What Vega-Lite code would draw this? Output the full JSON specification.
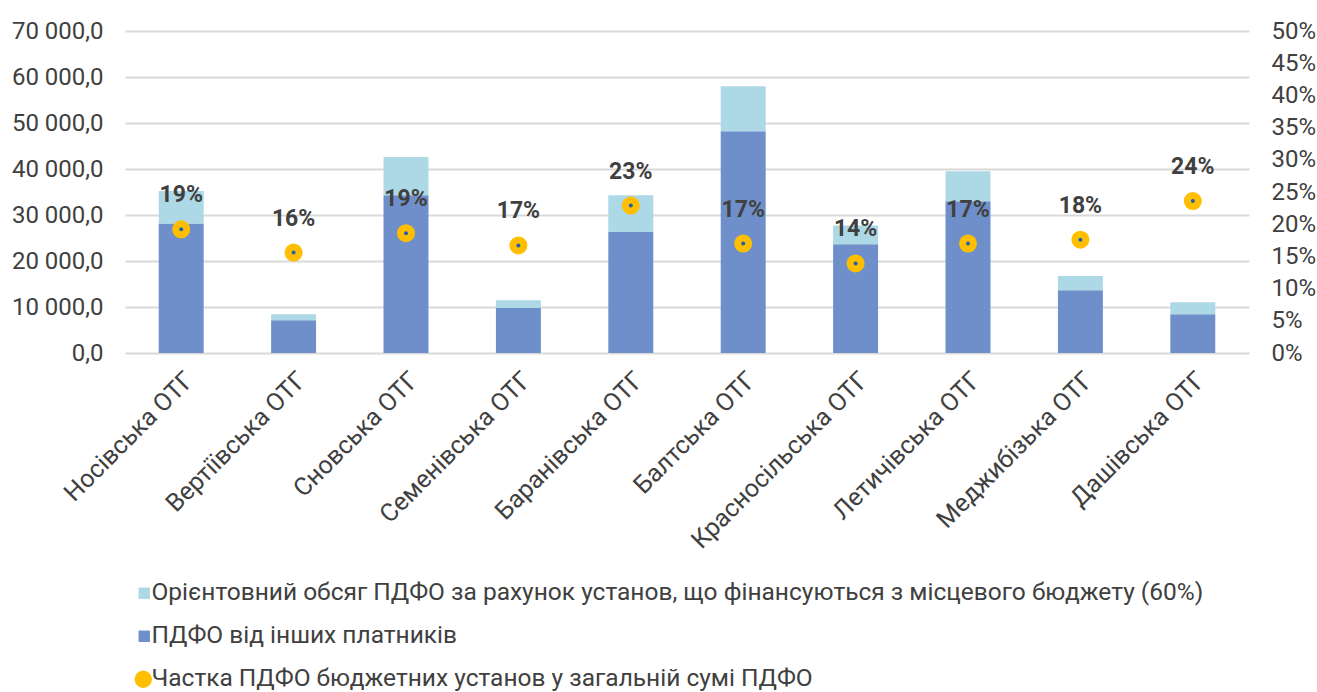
{
  "$schema": "https://vega.github.io/schema/vega-lite/v6.json",
  "width": 1124,
  "height": 322,
  "autosize": {"type": "none"},
  "padding": {"left": 125, "top": 31, "right": 68, "bottom": 339},
  "background": "white",
  "config": {
    "locale": {"number": {"decimal": ",", "thousands": " ", "grouping": [3], "currency": ["", ""]}},
    "font": "Roboto",
    "view": {"stroke": null},
    "axis": {"labelFont": "Roboto", "labelColor": "#404040", "labelFontSize": 24, "ticks": false, "domain": false, "title": null, "labelLimit": 0},
    "legend": {"labelFont": "Roboto", "labelColor": "#404040", "labelFontSize": 24.5, "title": null, "labelLimit": 0}
  },
  "datasets": {
    "bars": [
      {"otg": "Носівська ОТГ", "series": "ПДФО від інших платників", "value": 28130},
      {"otg": "Носівська ОТГ", "series": "Орієнтовний обсяг ПДФО за рахунок установ, що фінансуються з місцевого бюджету (60%)", "value": 7090},
      {"otg": "Вертіївська ОТГ", "series": "ПДФО від інших платників", "value": 7110},
      {"otg": "Вертіївська ОТГ", "series": "Орієнтовний обсяг ПДФО за рахунок установ, що фінансуються з місцевого бюджету (60%)", "value": 1300},
      {"otg": "Сновська ОТГ", "series": "ПДФО від інших платників", "value": 34280},
      {"otg": "Сновська ОТГ", "series": "Орієнтовний обсяг ПДФО за рахунок установ, що фінансуються з місцевого бюджету (60%)", "value": 8330},
      {"otg": "Семенівська ОТГ", "series": "ПДФО від інших платників", "value": 9780},
      {"otg": "Семенівська ОТГ", "series": "Орієнтовний обсяг ПДФО за рахунок установ, що фінансуються з місцевого бюджету (60%)", "value": 1680},
      {"otg": "Баранівська ОТГ", "series": "ПДФО від інших платників", "value": 26300},
      {"otg": "Баранівська ОТГ", "series": "Орієнтовний обсяг ПДФО за рахунок установ, що фінансуються з місцевого бюджету (60%)", "value": 7980},
      {"otg": "Балтська ОТГ", "series": "ПДФО від інших платників", "value": 48200},
      {"otg": "Балтська ОТГ", "series": "Орієнтовний обсяг ПДФО за рахунок установ, що фінансуються з місцевого бюджету (60%)", "value": 9780},
      {"otg": "Красносільська ОТГ", "series": "ПДФО від інших платників", "value": 23630},
      {"otg": "Красносільська ОТГ", "series": "Орієнтовний обсяг ПДФО за рахунок установ, що фінансуються з місцевого бюджету (60%)", "value": 4070},
      {"otg": "Летичівська ОТГ", "series": "ПДФО від інших платників", "value": 32980},
      {"otg": "Летичівська ОТГ", "series": "Орієнтовний обсяг ПДФО за рахунок установ, що фінансуються з місцевого бюджету (60%)", "value": 6520},
      {"otg": "Меджибізька ОТГ", "series": "ПДФО від інших платників", "value": 13630},
      {"otg": "Меджибізька ОТГ", "series": "Орієнтовний обсяг ПДФО за рахунок установ, що фінансуються з місцевого бюджету (60%)", "value": 3110},
      {"otg": "Дашівська ОТГ", "series": "ПДФО від інших платників", "value": 8410},
      {"otg": "Дашівська ОТГ", "series": "Орієнтовний обсяг ПДФО за рахунок установ, що фінансуються з місцевого бюджету (60%)", "value": 2610}
    ],
    "share": [
      {"otg": "Носівська ОТГ", "pct": 0.192},
      {"otg": "Вертіївська ОТГ", "pct": 0.156},
      {"otg": "Сновська ОТГ", "pct": 0.186},
      {"otg": "Семенівська ОТГ", "pct": 0.167},
      {"otg": "Баранівська ОТГ", "pct": 0.229},
      {"otg": "Балтська ОТГ", "pct": 0.170},
      {"otg": "Красносільська ОТГ", "pct": 0.139},
      {"otg": "Летичівська ОТГ", "pct": 0.170},
      {"otg": "Меджибізька ОТГ", "pct": 0.176},
      {"otg": "Дашівська ОТГ", "pct": 0.236}
    ]
  },
  "encoding": {
    "x": {
      "field": "otg",
      "type": "nominal",
      "sort": null,
      "scale": {"paddingInner": 0.6, "paddingOuter": 0.3},
      "axis": {"labelAngle": -45, "labelPadding": 14, "labelFontSize": 25}
    }
  },
  "layer": [
    {
      "data": {"name": "bars"},
      "mark": {"type": "bar"},
      "encoding": {
        "y": {
          "field": "value",
          "type": "quantitative",
          "stack": "zero",
          "scale": {"domain": [0, 70000]},
          "axis": {
            "values": [0, 10000, 20000, 30000, 40000, 50000, 60000, 70000],
            "format": ",.1f",
            "grid": true,
            "gridColor": "#D9D9D9",
            "gridWidth": 2,
            "labelPadding": 22
          }
        },
        "color": {
          "field": "series",
          "type": "nominal",
          "scale": {
            "domain": ["Орієнтовний обсяг ПДФО за рахунок установ, що фінансуються з місцевого бюджету (60%)", "ПДФО від інших платників"],
            "range": ["#ADD8E6", "#6E8FC9"]
          },
          "legend": {
            "orient": "none",
            "legendX": 7,
            "legendY": 550,
            "direction": "vertical",
            "symbolType": "square",
            "symbolSize": 130,
            "rowPadding": 18,
            "labelOffset": -5
          }
        },
        "order": {"field": "series", "sort": "descending"}
      }
    },
    {
      "data": {"name": "share"},
      "encoding": {
        "y": {
          "field": "pct",
          "type": "quantitative",
          "scale": {"domain": [0, 0.5]},
          "axis": {
            "orient": "right",
            "values": [0, 0.05, 0.1, 0.15, 0.2, 0.25, 0.3, 0.35, 0.4, 0.45, 0.5],
            "format": ".0%",
            "grid": false,
            "labelPadding": 22
          }
        }
      },
      "layer": [
        {
          "mark": {"type": "circle", "size": 324, "opacity": 1},
          "encoding": {
            "color": {
              "datum": "Частка ПДФО  бюджетних установ у загальній сумі ПДФО",
              "type": "nominal",
              "scale": {"range": ["#FFBF00"]},
              "legend": {
                "orient": "none",
                "legendX": 6,
                "legendY": 636,
                "symbolType": "circle",
                "symbolSize": 300,
                "labelOffset": -4
              }
            }
          }
        },
        {
          "mark": {"type": "circle", "size": 16, "color": "#1F5FAF", "opacity": 1},
          "encoding": {}
        },
        {
          "mark": {"type": "text", "dy": -34, "fontSize": 23, "fontWeight": "bold", "color": "#404040"},
          "encoding": {"text": {"field": "pct", "type": "quantitative", "format": ".0%"}}
        }
      ]
    }
  ],
  "resolve": {"scale": {"y": "independent", "color": "independent"}}
}
